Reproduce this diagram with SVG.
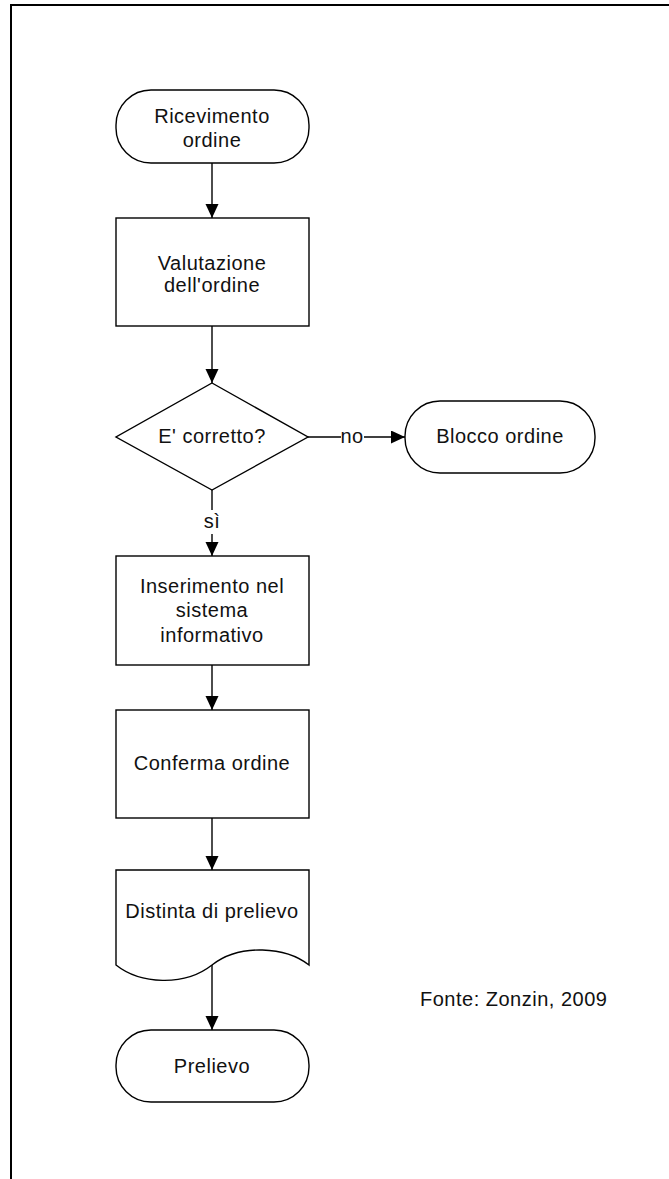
<svg xmlns="http://www.w3.org/2000/svg" width="669" height="1179" viewBox="0 0 669 1179">
  <style>
    .shape { fill: #ffffff; stroke: #000000; stroke-width: 1.4; }
    .conn { fill: none; stroke: #000000; stroke-width: 1.4; }
    .lbl { font-family: "Liberation Sans", Arial, sans-serif; font-size: 20px; letter-spacing: 0.5px; fill: #111111; text-anchor: middle; }
    .note { font-family: "Liberation Sans", Arial, sans-serif; font-size: 20px; letter-spacing: 0.5px; fill: #111111; }
    .frame { fill: none; stroke: #000000; stroke-width: 2; }
  </style>
  <defs>
    <marker id="arrow" markerUnits="userSpaceOnUse" markerWidth="16" markerHeight="16" refX="14" refY="6.5" orient="auto">
      <path d="M0,0 L14,6.5 L0,13 Z" fill="#000000"/>
    </marker>
  </defs>

  <rect width="669" height="1179" fill="#ffffff"/>
  <!-- page frame (left and top edges) -->
  <path class="frame" d="M11,1179 V5 H669"/>

  <!-- connectors -->
  <g id="connectors">
    <line class="conn" x1="212" y1="163" x2="212" y2="218" marker-end="url(#arrow)"/>
    <line class="conn" x1="212" y1="326" x2="212" y2="383" marker-end="url(#arrow)"/>
    <line class="conn" x1="308" y1="437" x2="405" y2="437" marker-end="url(#arrow)"/>
    <rect x="341" y="426" width="23" height="22" fill="#ffffff"/>
    <text class="lbl" x="352" y="443">no</text>
    <line class="conn" x1="212" y1="490" x2="212" y2="556" marker-end="url(#arrow)"/>
    <rect x="202" y="510" width="20" height="24" fill="#ffffff"/>
    <text class="lbl" x="212" y="528">sì</text>
    <line class="conn" x1="212" y1="665" x2="212" y2="710" marker-end="url(#arrow)"/>
    <line class="conn" x1="212" y1="818" x2="212" y2="870" marker-end="url(#arrow)"/>
    <line class="conn" x1="212" y1="965" x2="212" y2="1030" marker-end="url(#arrow)"/>
  </g>

  <!-- start terminal -->
  <g id="ricevimento">
    <rect class="shape" x="116" y="90" width="193" height="73" rx="35" ry="35"/>
    <text class="lbl" x="212" y="123">Ricevimento</text>
    <text class="lbl" x="212" y="147">ordine</text>
  </g>

  <g id="valutazione">
    <rect class="shape" x="116" y="218" width="193" height="108"/>
    <text class="lbl" x="212" y="270">Valutazione</text>
    <text class="lbl" x="212" y="292">dell'ordine</text>
  </g>

  <g id="decisione">
    <polygon class="shape" points="212,383 308,437 212,490 116,437"/>
    <text class="lbl" x="212" y="443">E' corretto?</text>
  </g>

  <g id="blocco">
    <rect class="shape" x="405" y="401" width="190" height="72" rx="35" ry="35"/>
    <text class="lbl" x="500" y="443">Blocco ordine</text>
  </g>

  <g id="inserimento">
    <rect class="shape" x="116" y="556" width="193" height="109"/>
    <text class="lbl" x="212" y="593">Inserimento nel</text>
    <text class="lbl" x="212" y="617">sistema</text>
    <text class="lbl" x="212" y="642">informativo</text>
  </g>

  <g id="conferma">
    <rect class="shape" x="116" y="710" width="193" height="108"/>
    <text class="lbl" x="212" y="770">Conferma ordine</text>
  </g>

  <!-- document shape -->
  <g id="distinta">
    <path class="shape" d="M116,870 H309 V965 C286,947 240,943 212,965 C184,987 140,984 116,965 Z"/>
    <text class="lbl" x="212" y="918">Distinta di prelievo</text>
  </g>

  <!-- end terminal -->
  <g id="prelievo">
    <rect class="shape" x="116" y="1030" width="193" height="72" rx="35" ry="35"/>
    <text class="lbl" x="212" y="1073">Prelievo</text>
  </g>

  <text class="note" x="420" y="1006">Fonte: Zonzin, 2009</text>
</svg>
